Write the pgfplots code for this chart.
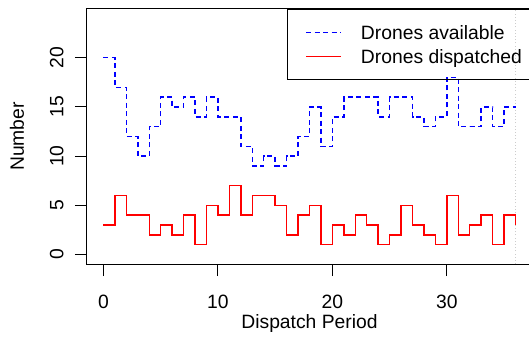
\documentclass[border=0pt]{standalone}
\usepackage{fontspec}
\setmainfont{Liberation Sans}
\usepackage{pgfplots}
\usepackage{pgfplotstable}
\pgfplotsset{compat=1.18}
\pgfplotstableread{
x avail disp
0 20 3
1 17 6
2 12 4
3 10 4
4 13 2
5 16 3
6 15 2
7 16 4
8 14 1
9 16 5
10 14 4
11 14 7
12 11 4
13 9 6
14 10 6
15 9 5
16 10 2
17 12 4
18 15 5
19 11 1
20 14 3
21 16 2
22 16 4
23 16 3
24 14 1
25 16 2
26 16 5
27 14 3
28 13 2
29 14 1
30 18 6
31 13 2
32 13 3
33 15 4
34 13 1
35 15 4
36 15 3
}\drones
\begin{document}
\fontsize{9.65}{11.6}\selectfont
\begin{tikzpicture}
\begin{axis}[
  at={(0pt,0pt)}, anchor=south west,
  scale only axis, width=222.5pt, height=127.5pt,
  xmin=-1.44, xmax=37.44, ymin=-0.96, ymax=24.96,
  xtick={0,10,20,30}, ytick={0,5,10,15,20},
  xtick pos=lower, ytick pos=left,
  tick align=outside, major tick length=6pt,
  every tick/.style={black, line width=0.5pt},
  axis line style={line width=0.5pt, black},
  /pgf/number format/assume math mode=true,
  ticklabel style={font=\fontsize{9.65}{11.6}\selectfont, inner sep=0pt},
  xticklabel style={anchor=north},
  yticklabel style={rotate=90, anchor=south},
  xticklabel shift=9.35pt, yticklabel shift=5.5pt,
  xlabel={Dispatch Period}, ylabel={Number},
  every axis x label/.style={at={([yshift=-30pt]axis description cs:0.5,0)}, anchor=center, font=\fontsize{9.65}{11.6}\selectfont},
  every axis y label/.style={at={([xshift=-35pt]axis description cs:0,0.5)}, anchor=center, rotate=90, font=\fontsize{9.65}{11.6}\selectfont},
  legend cell align=left,
  legend image code/.code={\draw[#1] (0pt,0pt) -- (17.5pt,0pt);},
  legend style={at={(0.4494,1)}, anchor=north west, draw=black, line width=0.5pt, fill=none,
    font=\fontsize{9.65}{11.6}\selectfont, inner xsep=9pt, inner ysep=6.2pt,
    row sep=1.4pt, column sep=9.5pt,
    nodes={inner sep=0pt, text height=9pt, text depth=1.6pt}},
]
\addplot[gray!40, line width=0.5pt, dash pattern=on 0.4pt off 1.2pt, forget plot] coordinates {(36,-0.96) (36,24.96)};
\addplot[blue, line width=0.7pt, dash pattern=on 2.5pt off 1.75pt, const plot] table[x=x, y=avail] {\drones};
\addlegendentry{Drones available}
\addplot[red, line width=0.75pt, const plot] table[x=x, y=disp] {\drones};
\addlegendentry{Drones dispatched}
\end{axis}
\pgfresetboundingbox
\path[use as bounding box] (-43.5pt,-36.5pt) rectangle (221pt,132pt);
\end{tikzpicture}
\end{document}
